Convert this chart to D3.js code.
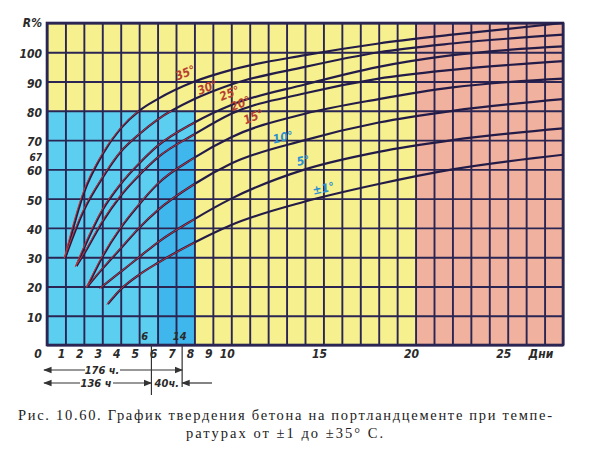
<!DOCTYPE html>
<html><head><meta charset="utf-8">
<script src="https://cdn.jsdelivr.net/npm/d3@7"></script>
<style>body{margin:0;background:#fff}</style></head>
<body><svg id="c" width="600" height="452"></svg>
<script>
// ---- data ----
const dayLabels = [0,1,2,3,4,5,6,7,8,9,10,15,20,25];
const pctLabels = [10,20,30,40,50,60,70,80,90,100];
const tempLabels = ["35°","30°","25°","20°","15°","10°","5°","±1°"];
const t35 = [[1,30],[2,52],[3,65],[4,74],[5,80],[6,84],[8,90],[10,94],[14,99],[18,103],[22,106],[28,110]];
const t30 = [[1,30],[2,46],[3,57],[4,66],[5,72],[6,77],[8,84],[10,89],[14,95],[18,100],[22,103],[28,106]];
const t25 = [[1.6,27],[2,33],[3,46],[4,55],[5,62],[6,68],[8,76],[10,82],[14,89],[18,95],[22,99],[28,102]];
const t20 = [[1.6,27],[2,31],[3,42],[4,51],[5,58],[6,64],[8,72],[10,79],[14,86],[18,91],[22,94],[28,97]];
const t15 = [[2.2,20],[3,30],[4,40],[5,48],[6,55],[8,64],[10,71],[14,79],[18,84],[22,88],[28,91]];
const t10 = [[2.2,20],[3,26],[4,33],[5,40],[6,46],[8,55],[10,62],[14,70],[18,76],[22,80],[28,84]];
const t5  = [[2.9,19.5],[4,25],[5,30],[6,35],[8,43],[10,50],[14,60],[18,66],[22,70],[28,74]];
const t1  = [[3.3,14],[4,19],[5,24],[6,28],[8,35],[10,41],[14,49],[18,55],[22,60],[28,65]];
const series = [t35,t30,t25,t20,t15,t10,t5,t1];

// ---- layout ----
const svg = d3.select("#c");
const x = d3.scaleLinear([0,28],[47,563]);
const y = d3.scaleLinear([0,110],[345,23]);
const gridCol = "#2a2552";

// zones
const zones = [
  {x0:0,x1:8,y0:0,y1:80,c:"#5ccff0"},
  {x0:6,x1:8,y0:0,y1:70,c:"#40b7ec"},
  {x0:0,x1:8,y0:80,y1:110,c:"#f6f08f"},
  {x0:8,x1:20,y0:0,y1:110,c:"#f6f08f"},
  {x0:20,x1:28,y0:0,y1:110,c:"#f0b29e"}
];
svg.selectAll("rect.z").data(zones).join("rect")
  .attr("x",d=>x(d.x0)).attr("width",d=>x(d.x1)-x(d.x0))
  .attr("y",d=>y(d.y1)).attr("height",d=>y(d.y0)-y(d.y1))
  .attr("fill",d=>d.c);

// grid via axes
const gx = svg.append("g").attr("transform",`translate(0,${y(0)})`)
  .call(d3.axisBottom(x).tickValues(d3.range(0,29)).tickSize(-(y(0)-y(110))).tickFormat(""));
const gy = svg.append("g").attr("transform",`translate(${x(0)},0)`)
  .call(d3.axisLeft(y).tickValues(d3.range(0,111,10)).tickSize(-(x(28)-x(0))).tickFormat(""));
[gx,gy].forEach(g=>{
  g.select(".domain").remove();
  g.selectAll("line").attr("stroke",gridCol).attr("stroke-width",1.9);
});
svg.append("rect").attr("x",x(0)).attr("y",y(110)).attr("width",x(28)-x(0)).attr("height",y(0)-y(110))
  .attr("fill","none").attr("stroke",gridCol).attr("stroke-width",2.6);

// curves
const line = d3.line().x(d=>x(d[0])).y(d=>y(d[1])).curve(d3.curveMonotoneX);
svg.append("clipPath").attr("id","blueclip").append("rect")
  .attr("x",x(0)).attr("y",y(80)).attr("width",x(8)-x(0)).attr("height",y(0)-y(80));
svg.append("g").selectAll("path").data(series).join("path")
  .attr("d",line).attr("fill","none").attr("stroke","#241c48").attr("stroke-width",2.2);
svg.append("g").attr("clip-path","url(#blueclip)").selectAll("path").data(series).join("path")
  .attr("d",line).attr("fill","none").attr("stroke","#c23a3a").attr("stroke-width",1)
  .attr("transform","translate(-1.2,0.8)");

// curve labels
const labelPos = [[7.5,93],[8.7,88],[9.9,86],[10.5,82.5],[11.2,78],[12.8,71],[13.9,63],[15,53.5]];
svg.append("g").selectAll("text").data(tempLabels).join("text")
  .attr("transform",(d,i)=>`translate(${x(labelPos[i][0])},${y(labelPos[i][1])}) rotate(${i<5?-22:-12})`)
  .attr("text-anchor","middle").attr("dy","0.35em")
  .attr("font-family","DejaVu Sans Condensed, DejaVu Sans").attr("font-style","italic")
  .attr("font-size",12).attr("font-weight","bold")
  .attr("fill",(d,i)=>i<5?"#b8402e":"#2b8fd3")
  .text(d=>d);

// axis labels
const lf = g=>g.attr("font-family","DejaVu Sans Condensed, DejaVu Sans").attr("font-style","italic")
  .attr("font-weight","bold").attr("font-size",12).attr("fill","#2a2a2a");
svg.append("g").call(lf).selectAll("text").data(dayLabels).join("text")
  .attr("x",d=>d===0?x(0)-9:x(d)-4).attr("y",y(0)+13).attr("text-anchor","middle").text(d=>d);
svg.append("text").call(lf).attr("x",x(26.8)).attr("y",y(0)+13).attr("text-anchor","middle").text("Дни");
svg.append("g").call(lf).selectAll("text").data(pctLabels).join("text")
  .attr("x",x(0)-5).attr("y",d=>y(d)+6).attr("text-anchor","end").text(d=>d);
svg.append("text").call(lf).attr("font-size",10).attr("x",x(0)-5).attr("y",y(65)+6).attr("text-anchor","end").text("67");
svg.append("text").call(lf).attr("x",x(0)-5).attr("y",y(110)+4).attr("text-anchor","end").text("R%");
svg.append("text").call(lf).attr("font-size",11).attr("x",x(5.3)).attr("y",y(0)-5).attr("text-anchor","middle").text("6");
svg.append("text").call(lf).attr("font-size",11).attr("x",x(7.2)).attr("y",y(0)-5).attr("text-anchor","middle").text("14");

// hours annotation
const hrs = [136,176];
const hx = h=>x(h/24);
const ann = svg.append("g").attr("stroke","#333").attr("stroke-width",1.2).attr("fill","none");
ann.append("line").attr("x1",hx(136)).attr("x2",hx(136)).attr("y1",y(0)).attr("y2",y(0)+50);
ann.append("line").attr("x1",hx(176)).attr("x2",hx(176)).attr("y1",y(0)).attr("y2",y(0)+42);
svg.append("defs").html('<marker id="ah" viewBox="0 0 10 10" refX="9" refY="5" markerWidth="7" markerHeight="7" orient="auto-start-reverse"><path d="M0,1 L10,5 L0,9 z" fill="#333"/></marker>');
const arrow = (x1,x2,yy,start,end)=>ann.append("line").attr("x1",x1).attr("x2",x2).attr("y1",yy).attr("y2",yy)
  .attr("marker-start",start?"url(#ah)":null).attr("marker-end",end?"url(#ah)":null);
const af = g=>lf(g).attr("font-size",11);
arrow(x(0)-3,85,370,true,false); arrow(120,hx(176),370,false,true);
arrow(x(0)-3,80,383,true,false); arrow(113,hx(136),383,false,true);
arrow(212,hx(176),383,false,true);
svg.append("text").call(af).attr("x",102).attr("y",374).attr("text-anchor","middle").text(hrs[1]+" ч.");
svg.append("text").call(af).attr("x",96).attr("y",387).attr("text-anchor","middle").text(hrs[0]+" ч");
svg.append("text").call(af).attr("x",(hx(136)+hx(176))/2).attr("y",387).attr("text-anchor","middle").text((hrs[1]-hrs[0])+"ч.");

// caption
const cf = g=>g.attr("font-family","Liberation Serif, DejaVu Serif").attr("font-size",14.5).attr("fill","#222");
svg.append("text").call(cf).attr("x",18).attr("y",420).attr("textLength",534).attr("lengthAdjust","spacing")
  .text("Рис. 10.60. График твердения бетона на портландцементе при темпе-");
svg.append("text").call(cf).attr("x",186).attr("y",438).attr("textLength",197).attr("lengthAdjust","spacing")
  .text("ратурах от ±1 до ±35° С.");
</script></body></html>
